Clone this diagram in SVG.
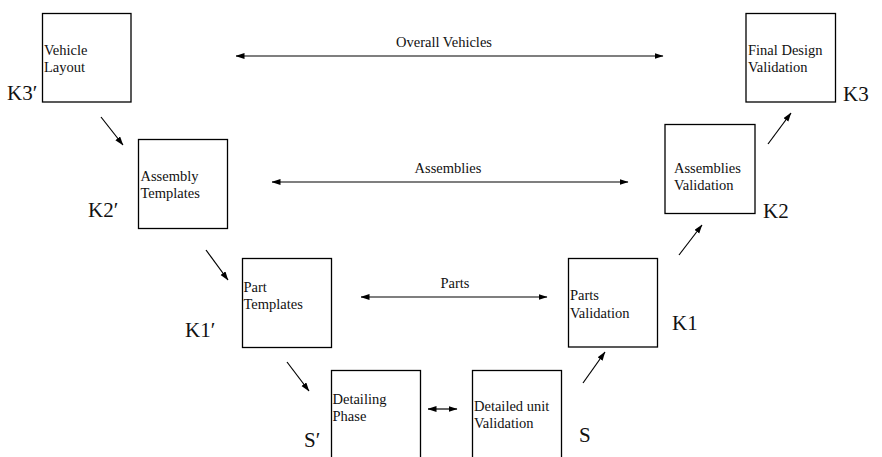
<svg xmlns="http://www.w3.org/2000/svg" width="882" height="457" viewBox="0 0 882 457">
  <style>
    .box { fill: #fff; stroke: #000; stroke-width: 1.3; }
    .txt { font-family: "Liberation Serif", "Times New Roman", serif; font-size: 14.5px; fill: #111; }
    .lvl { font-family: "Liberation Serif", "Times New Roman", serif; font-size: 21px; fill: #111; }
    .link { stroke: #000; stroke-width: 1.2; fill: none; }
  </style>
  <defs>
    <marker id="head" markerUnits="userSpaceOnUse" markerWidth="9" markerHeight="7" refX="8.5" refY="3" orient="auto-start-reverse">
      <path d="M0,0 L9,3 L0,6 Z" fill="#000"/>
    </marker>
  </defs>
  <rect width="882" height="457" fill="#fff"/>

  <g id="vehicle-layout">
    <rect class="box" x="42.5" y="13.5" width="88.5" height="88.5"/>
    <text class="txt" x="44" y="55">Vehicle</text>
    <text class="txt" x="44" y="72">Layout</text>
    <text class="lvl" x="7" y="100">K3′</text>
  </g>

  <g id="assembly-templates">
    <rect class="box" x="138.5" y="139.5" width="89" height="89"/>
    <text class="txt" x="140.5" y="181">Assembly</text>
    <text class="txt" x="140.5" y="198">Templates</text>
    <text class="lvl" x="88" y="217">K2′</text>
  </g>

  <g id="part-templates">
    <rect class="box" x="242.5" y="258.5" width="89" height="89"/>
    <text class="txt" x="243.5" y="292">Part</text>
    <text class="txt" x="243.5" y="309">Templates</text>
    <text class="lvl" x="185" y="337">K1′</text>
  </g>

  <g id="detailing-phase">
    <rect class="box" x="331.5" y="370.5" width="89" height="100"/>
    <text class="txt" x="332.5" y="404">Detailing</text>
    <text class="txt" x="332.5" y="421">Phase</text>
    <text class="lvl" x="304" y="447">S′</text>
  </g>

  <g id="detailed-unit-validation">
    <rect class="box" x="472.5" y="370.5" width="89" height="100"/>
    <text class="txt" x="474" y="411">Detailed unit</text>
    <text class="txt" x="474" y="428">Validation</text>
    <text class="lvl" x="579" y="442">S</text>
  </g>

  <g id="parts-validation">
    <rect class="box" x="568.5" y="258.5" width="89" height="88.5"/>
    <text class="txt" x="570" y="300">Parts</text>
    <text class="txt" x="570" y="318">Validation</text>
    <text class="lvl" x="672" y="330">K1</text>
  </g>

  <g id="assemblies-validation">
    <rect class="box" x="665" y="124.5" width="90" height="89"/>
    <text class="txt" x="674" y="173">Assemblies</text>
    <text class="txt" x="674" y="190">Validation</text>
    <text class="lvl" x="763" y="218">K2</text>
  </g>

  <g id="final-design-validation">
    <rect class="box" x="746" y="13.5" width="89.5" height="88.5"/>
    <text class="txt" x="748" y="55">Final Design</text>
    <text class="txt" x="748" y="72">Validation</text>
    <text class="lvl" x="843" y="101">K3</text>
  </g>

  <g id="connectors">
    <!-- descending (left) branch -->
    <line class="link" x1="101" y1="117" x2="123" y2="145" marker-end="url(#head)"/>
    <line class="link" x1="206" y1="250" x2="228" y2="280" marker-end="url(#head)"/>
    <line class="link" x1="287" y1="362" x2="309" y2="391" marker-end="url(#head)"/>
    <!-- ascending (right) branch -->
    <line class="link" x1="583" y1="383" x2="605" y2="352" marker-end="url(#head)"/>
    <line class="link" x1="679" y1="255" x2="702" y2="225" marker-end="url(#head)"/>
    <line class="link" x1="768" y1="144" x2="791" y2="113" marker-end="url(#head)"/>
    <!-- level-to-level links -->
    <line class="link" x1="236" y1="56" x2="663" y2="56" marker-start="url(#head)" marker-end="url(#head)"/>
    <text class="txt" x="444" y="47" text-anchor="middle">Overall Vehicles</text>
    <line class="link" x1="272" y1="182" x2="628" y2="182" marker-start="url(#head)" marker-end="url(#head)"/>
    <text class="txt" x="448" y="173" text-anchor="middle">Assemblies</text>
    <line class="link" x1="361" y1="297" x2="547" y2="297" marker-start="url(#head)" marker-end="url(#head)"/>
    <text class="txt" x="455" y="288" text-anchor="middle">Parts</text>
    <line class="link" x1="428" y1="409" x2="457" y2="409" marker-start="url(#head)" marker-end="url(#head)"/>
  </g>
</svg>
